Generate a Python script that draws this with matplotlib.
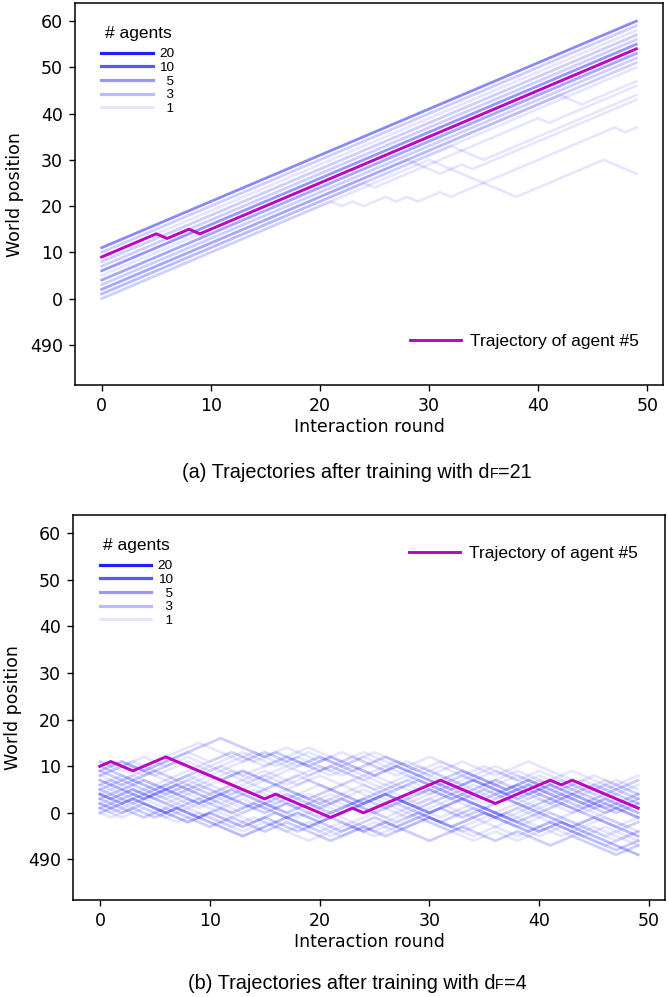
import matplotlib
matplotlib.use("Agg")
import matplotlib.pyplot as plt
from matplotlib.lines import Line2D
from matplotlib.offsetbox import TextArea, HPacker, AnchoredOffsetbox

# ---- data (vertices of each trajectory) ----
YTICKS = [-10, 0, 10, 20, 30, 40, 50, 60]
YTICK_LABELS = ["490", "0", "10", "20", "30", "40", "50", "60"]
XTICKS = [0, 10, 20, 30, 40, 50]
LEGEND_COUNTS = [20, 10, 5, 3, 1]
LEGEND_LABELS = ["20", "10", "  5", "  3", "  1"]

# panel (a): agents moving straight up, a few stragglers
top_paths = [
    [(0, 11), (49, 60)], [(0, 10), (49, 59)], [(0, 9), (49, 58)], [(0, 8), (49, 57)],
    [(0, 7), (49, 56)], [(0, 6), (49, 55)], [(0, 5), (49, 54)], [(0, 4), (49, 53)],
    [(0, 3), (49, 52)], [(0, 2), (49, 51)], [(0, 1), (49, 50)],
    [(0, 0), (30, 30), (38, 22), (46, 30), (49, 27)],
    [(0, 0), (21, 21), (22, 20), (23, 21), (24, 20), (25, 21), (26, 22), (27, 21), (28, 22),
     (29, 21), (31, 23), (32, 22), (35, 25), (47, 37), (48, 36), (49, 37)],
    [(0, 1), (32, 33), (35, 30), (49, 44)],
    [(0, 2), (28, 30), (31, 27), (33, 29), (34, 28), (49, 43)],
    [(0, 2), (42, 44), (44, 42), (49, 47)],
    [(0, 1), (24, 25), (25, 24), (40, 39), (41, 38), (49, 46)],
]
top_weights = [6, 2, 1, 2, 2, 5, 1, 4, 2, 2, 1, 1, 1, 1, 1, 1, 1]
top_agent5 = [(0, 9), (5, 14), (6, 13), (8, 15), (9, 14), (49, 54)]

# panel (b): agents wandering around
bottom_paths = [
    [(0, 9), (2, 11), (4, 9), (11, 16), (15, 12), (16, 13), (19, 10), (21, 12), (25, 8), (27, 10),
     (32, 5), (34, 7), (38, 3), (40, 5), (44, 1), (46, 3), (49, 0)],
    [(0, 10), (1, 11), (3, 9), (6, 12), (9, 15), (13, 11), (15, 13), (17, 11), (19, 13), (22, 10),
     (24, 12), (30, 6), (33, 9), (37, 5), (39, 7), (45, 1), (47, 3), (49, 1)],
    [(0, 11), (2, 9), (3, 10), (5, 8), (8, 11), (10, 9), (14, 13), (16, 11), (19, 14), (22, 11),
     (24, 13), (29, 8), (31, 10), (35, 6), (38, 9), (42, 5), (44, 7), (49, 2)],
    [(0, 0), (1, -1), (3, 1), (5, -1), (7, 1), (9, -1), (13, 3), (15, 1), (18, 4), (20, 2),
     (24, 6), (26, 4), (29, 7), (33, 3), (35, 5), (40, 0), (42, 2), (47, -3), (49, -1)],
    [(0, 1), (2, -1), (4, 1), (7, -2), (9, 0), (12, -3), (14, -1), (19, -6), (23, -2), (25, -4),
     (29, 0), (31, -2), (34, 1), (38, -3), (41, 0), (46, -5), (49, -2)],
    [(0, 2), (3, 5), (5, 3), (8, 6), (11, 3), (13, 5), (16, 2), (18, 4), (22, 0), (25, 3),
     (28, 0), (32, 4), (36, 0), (38, 2), (43, -3), (45, -1), (49, -5)],
    [(0, 5), (2, 7), (5, 4), (7, 6), (10, 3), (12, 5), (17, 0), (19, 2), (23, -2), (26, 1),
     (28, -1), (33, 4), (35, 2), (39, 6), (41, 4), (45, 8), (47, 6), (49, 8)],
    [(0, 6), (3, 3), (5, 5), (9, 1), (11, 3), (13, 1), (17, 5), (19, 3), (23, 7), (25, 5),
     (28, 8), (32, 4), (34, 6), (38, 2), (40, 4), (44, 0), (46, 2), (49, -1)],
    [(0, 7), (2, 5), (4, 7), (7, 4), (9, 6), (11, 4), (15, 8), (17, 6), (21, 10), (24, 7),
     (27, 10), (31, 6), (33, 8), (37, 4), (40, 7), (43, 4), (46, 7), (49, 4)],
    [(0, 8), (3, 11), (5, 9), (7, 11), (11, 7), (13, 9), (16, 6), (20, 10), (22, 8), (26, 12),
     (29, 9), (31, 11), (36, 6), (38, 8), (42, 4), (44, 6), (49, 1)],
    [(0, 9), (4, 5), (6, 7), (8, 5), (12, 9), (14, 7), (18, 11), (20, 9), (23, 12), (27, 8),
     (29, 10), (33, 6), (36, 9), (40, 5), (42, 7), (46, 3), (49, 6)],
    [(0, 10), (3, 7), (5, 9), (8, 6), (11, 9), (14, 6), (17, 9), (20, 12), (23, 9), (26, 12),
     (30, 8), (33, 11), (36, 8), (39, 11), (42, 8), (45, 5), (47, 7), (49, 5)],
    [(0, 3), (4, -1), (6, 1), (10, -3), (12, -1), (15, -4), (17, -2), (21, -6), (24, -3), (26, -5),
     (30, -1), (32, -3), (35, 0), (39, -4), (41, -2), (47, -8), (49, -6)],
    [(0, 4), (2, 2), (3, 3), (6, 0), (7, 1), (13, -5), (18, 0), (20, -2), (26, 4), (30, 0),
     (33, 3), (40, -4), (42, -2), (49, -9)],
    [(0, 1), (3, 4), (6, 1), (8, 3), (12, -1), (15, 2), (18, -1), (22, 3), (25, 0), (27, 2),
     (31, -2), (34, 1), (36, -1), (40, 3), (43, 0), (46, 3), (49, 0)],
    [(0, 6), (2, 8), (6, 4), (8, 6), (10, 4), (15, 9), (18, 6), (20, 8), (25, 3), (28, 6),
     (30, 4), (34, 8), (37, 5), (39, 7), (44, 2), (47, 5), (49, 3)],
    [(0, 8), (2, 6), (5, 9), (7, 7), (9, 9), (14, 4), (16, 6), (19, 3), (21, 5), (25, 1),
     (27, 3), (30, 0), (33, 3), (37, -1), (39, 1), (43, -3), (45, -1), (49, -5)],
    [(0, 2), (2, 0), (4, 2), (8, -2), (10, 0), (13, -3), (15, -1), (18, -4), (20, -2), (22, -4),
     (25, -1), (27, -3), (31, 1), (33, -1), (37, 3), (39, 1), (42, 4), (46, 0), (49, 3)],
    [(0, 5), (3, 2), (5, 4), (8, 1), (10, 3), (13, 0), (17, 4), (20, 1), (22, 3), (26, -1),
     (28, 1), (33, -4), (35, -2), (38, -5), (41, -2), (44, -5), (46, -3), (49, -6)],
    [(0, 11), (1, 10), (2, 11), (6, 7), (9, 10), (12, 13), (14, 11), (17, 14), (20, 11), (22, 13),
     (26, 9), (28, 11), (32, 7), (35, 10), (38, 7), (40, 9), (45, 4), (47, 6), (49, 4)],
    [(0, 0), (3, 3), (8, -2), (10, 0), (13, -3), (16, 0), (21, -5), (23, -3), (25, -5), (29, -1),
     (32, -4), (36, 0), (38, -2), (42, 2), (45, -1), (49, -5)],
    [(0, 4), (3, 7), (5, 5), (9, 9), (11, 7), (13, 9), (18, 4), (20, 6), (24, 2), (26, 4),
     (31, -1), (34, 2), (38, -2), (40, 0), (43, -3), (47, 1), (49, -1)],
    [(0, 3), (2, 5), (4, 3), (7, 6), (10, 3), (12, 5), (16, 1), (19, 4), (21, 2), (24, 5),
     (28, 1), (30, 3), (35, -2), (37, 0), (42, -5), (44, -3), (47, -6), (49, -4)],
    [(0, 7), (4, 3), (6, 5), (9, 2), (11, 4), (15, 0), (17, 2), (20, -1), (24, 3), (26, 1),
     (30, 5), (32, 3), (36, 7), (39, 4), (41, 6), (46, 1), (49, 4)],
    [(0, 9), (2, 7), (4, 9), (8, 13), (10, 11), (12, 13), (15, 10), (17, 12), (21, 8), (23, 10),
     (27, 6), (29, 8), (34, 3), (36, 5), (40, 1), (43, 4), (47, 0), (49, 2)],
    [(0, 10), (1, 9), (4, 12), (6, 10), (8, 12), (11, 9), (15, 13), (18, 10), (20, 12), (24, 8),
     (27, 11), (31, 7), (33, 9), (37, 5), (40, 8), (44, 4), (46, 6), (49, 3)],
    [(0, 2), (1, 1), (4, 4), (6, 2), (10, 6), (12, 4), (14, 6), (19, 1), (21, 3), (24, 0),
     (27, 3), (29, 1), (33, 5), (35, 3), (38, 6), (43, 1), (45, 3), (49, -1)],
    [(0, 5), (1, 4), (4, 7), (6, 5), (11, 10), (13, 8), (16, 11), (19, 8), (21, 10), (26, 5),
     (28, 7), (31, 4), (34, 7), (37, 4), (39, 6), (42, 3), (45, 6), (49, 2)],
    [(0, 0), (2, 2), (5, -1), (7, 1), (9, -1), (11, 1), (14, -2), (16, 0), (20, -4), (22, -2),
     (24, -4), (28, 0), (30, -2), (34, -6), (36, -4), (38, -6), (41, -3), (43, -5), (45, -3), (49, -7)],
    [(0, 1), (1, 0), (3, 2), (6, -1), (8, 1), (13, -4), (15, -2), (17, -4), (19, -2), (22, -5),
     (25, -2), (27, -4), (30, -1), (34, -5), (37, -2), (40, -5), (42, -3), (46, -7), (49, -4)],
    [(0, 4), (1, 3), (3, 5), (7, 1), (9, 3), (12, 0), (14, 2), (19, -3), (21, -1), (24, -4),
     (26, -2), (30, -6), (33, -3), (36, -6), (38, -4), (41, -7), (43, -5), (47, -9), (49, -7)],
    [(0, 6), (1, 7), (4, 4), (6, 6), (9, 3), (12, 6), (14, 4), (18, 8), (21, 5), (24, 8),
     (27, 5), (29, 7), (33, 3), (36, 6), (39, 3), (42, 6), (45, 3), (49, 7)],
    [(0, 8), (1, 9), (5, 5), (8, 8), (10, 6), (13, 9), (17, 5), (19, 7), (24, 2), (26, 4),
     (28, 2), (32, 6), (35, 3), (38, 6), (42, 2), (44, 4), (49, -1)],
    [(0, 3), (1, 4), (3, 2), (6, 5), (9, 2), (11, 4), (14, 1), (17, 4), (21, 0), (23, 2),
     (27, -2), (29, 0), (32, -3), (35, 0), (37, -2), (40, 1), (44, -3), (46, -1), (49, -4)],
    [(0, 10), (1, 11), (4, 8), (7, 11), (9, 9), (13, 13), (16, 10), (18, 12), (21, 9), (25, 13),
     (28, 10), (30, 12), (34, 8), (36, 10), (40, 6), (43, 9), (47, 5), (49, 7)],
    [(0, 1), (4, 5), (6, 3), (8, 5), (11, 2), (13, 4), (17, 0), (20, 3), (22, 1), (26, 5),
     (29, 2), (31, 4), (36, -1), (38, 1), (41, -2), (44, 1), (48, -3), (49, -2)],
    [(0, 5), (3, 8), (6, 5), (8, 7), (12, 3), (14, 5), (18, 1), (21, 4), (23, 2), (27, 6),
     (29, 4), (32, 7), (36, 3), (38, 5), (41, 2), (43, 4), (47, 0), (49, 2)],
]
bottom_weights = [2, 1, 1, 1, 1, 1, 1, 1, 1, 1, 1, 1, 2, 3, 1, 1, 1, 2, 1, 1, 1, 1, 1, 2, 1, 1, 1,
                  1, 1, 1, 2, 1, 1, 1, 1, 1, 1]
bottom_agent5 = [(0, 10), (1, 11), (3, 9), (6, 12), (15, 3), (16, 4), (21, -1), (23, 1), (24, 0),
                 (31, 7), (36, 2), (41, 7), (42, 6), (43, 7), (49, 1)]

plt.rcParams['font.family'] = 'DejaVu Sans'
plt.rcParams['font.size'] = 12.5
plt.rcParams['axes.linewidth'] = 1.1
for a in ('xtick', 'ytick'):
    plt.rcParams[a + '.major.size'] = 4.4
    plt.rcParams[a + '.major.width'] = 1.0
    plt.rcParams[a + '.major.pad'] = 4.4

ARIAL = 'Liberation Sans'
BLUE = (0, 0, 1)
MAGENTA = '#c000c0'


def alpha_for(n):
    return 1 - 0.9 ** n


def draw_panel(ax, paths, weights, agent5, mag_anchor):
    for p, w in zip(paths, weights):
        xs, ys = zip(*p)
        ax.plot(xs, ys, color=BLUE, alpha=alpha_for(w), lw=2.0, solid_joinstyle='miter')
    xs, ys = zip(*agent5)
    mag, = ax.plot(xs, ys, color=MAGENTA, lw=2.1, label='Trajectory of agent #5')

    ax.set_xlim(-2.45, 51.45)
    ax.set_ylim(-18.7, 63.9)
    ax.set_xticks(XTICKS)
    ax.set_yticks(YTICKS)
    ax.set_yticklabels(YTICK_LABELS)
    ax.set_xlabel('Interaction round', labelpad=2)
    ax.set_ylabel('World position', labelpad=4)

    handles = [Line2D([], [], color=BLUE, alpha=alpha_for(n), lw=2.3) for n in LEGEND_COUNTS]
    leg = ax.legend(handles, LEGEND_LABELS, title='# agents', loc='upper left',
                    bbox_to_anchor=(0.045, 0.940), frameon=False, borderpad=0, borderaxespad=0,
                    handlelength=3.8, handletextpad=0.5, labelspacing=0.09,
                    prop={'family': ARIAL, 'size': 9.7},
                    title_fontproperties={'family': ARIAL, 'size': 12.5})
    leg._legend_box.sep = 5
    ax.add_artist(leg)
    ax.legend([mag], ['Trajectory of agent #5'], loc='center left', bbox_to_anchor=mag_anchor,
              frameon=False, borderpad=0, borderaxespad=0, handlelength=2.9, handletextpad=0.55,
              prop={'family': ARIAL, 'size': 12.5})


def caption(fig, y, head, sub, tail):
    box = HPacker(children=[TextArea(head, textprops=dict(family=ARIAL, size=14.3)),
                            TextArea(sub, textprops=dict(family=ARIAL, size=10.4)),
                            TextArea(tail, textprops=dict(family=ARIAL, size=14.3))],
                  align='baseline', pad=0, sep=0)
    anc = AnchoredOffsetbox(loc='center', child=box, pad=0, borderpad=0, frameon=False,
                            bbox_to_anchor=(0.534, y), bbox_transform=fig.transFigure)
    fig.add_artist(anc)


fig = plt.figure(figsize=(6.69, 9.97), dpi=100)
ax1 = fig.add_axes([0.1121, 0.6138, 0.879, 0.3831])
ax2 = fig.add_axes([0.1091, 0.0973, 0.885, 0.3862])

draw_panel(ax1, top_paths, top_weights, top_agent5, (0.57, 0.115))
draw_panel(ax2, bottom_paths, bottom_weights, bottom_agent5, (0.568, 0.899))

caption(fig, 1 - 472 / 997, '(a) Trajectories after training with d', 'F', '=21')
caption(fig, 1 - 983 / 997, '(b) Trajectories after training with d', 'F', '=4')

fig.savefig('out.png', dpi=100)
